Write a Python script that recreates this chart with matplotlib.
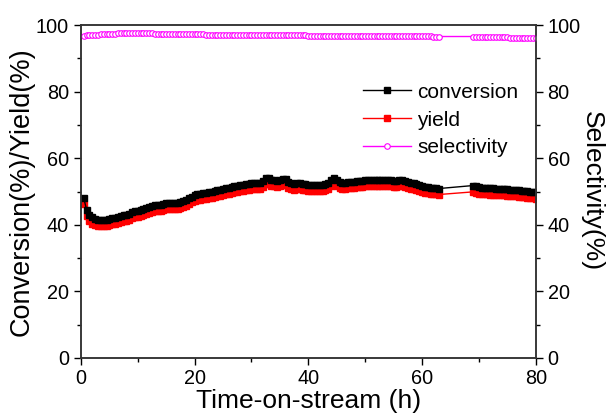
import numpy as np
import matplotlib
matplotlib.use("Agg")
import matplotlib.pyplot as plt
from matplotlib.ticker import MultipleLocator

plt.rcParams['font.family'] = ['Liberation Sans', 'DejaVu Sans']

# sampling grid: every 0.5 h, no samples between 63 h and 69 h
time_h = np.concatenate([np.arange(0.5, 63.01, 0.5), np.arange(69.0, 80.01, 0.5)])

conversion = [
    48.0, 44.5, 43.0, 42.2, 41.8, 41.5, 41.4, 41.4, 41.5, 41.7,
    41.9, 42.1, 42.3, 42.5, 42.8, 43.0, 43.3, 43.7, 44.0, 44.2,
    44.4, 44.6, 44.9, 45.3, 45.6, 45.8, 45.9, 46.0, 46.2, 46.4,
    46.5, 46.5, 46.6, 46.6, 46.8, 47.0, 47.4, 48.0, 48.5, 48.9,
    49.2, 49.4, 49.6, 49.7, 49.8, 50.0, 50.2, 50.4, 50.6, 50.8,
    51.0, 51.2, 51.4, 51.6, 51.8, 51.9, 52.1, 52.3, 52.4, 52.5,
    52.6, 52.6, 52.7, 53.3, 54.2, 54.0, 53.6, 53.4, 53.3, 53.4,
    53.8, 53.7, 53.0, 52.5, 52.4, 52.5, 52.6, 52.4, 52.2, 52.1,
    52.0, 52.0, 51.9, 51.9, 52.0, 52.2, 52.5, 53.4, 54.0, 53.5,
    52.8, 52.6, 52.7, 52.8, 52.9, 53.0, 53.1, 53.2, 53.3, 53.4,
    53.5, 53.5, 53.6, 53.6, 53.6, 53.6, 53.5, 53.5, 53.4, 53.3,
    53.2, 53.4, 53.5, 53.2, 52.9, 52.7, 52.5, 52.3, 52.1, 51.8,
    51.5, 51.3, 51.2, 51.1, 51.0, 50.9,
    51.8, 51.6, 51.3, 51.2, 51.2, 51.1, 51.0, 51.0, 50.9, 50.9,
    50.8, 50.8, 50.7, 50.6, 50.6, 50.5, 50.4, 50.3, 50.2, 50.1,
    50.0, 49.9, 49.8,
]

yield_ = [
    46.3, 42.5, 41.0, 40.3, 39.9, 39.7, 39.6, 39.6, 39.7, 39.9,
    40.1, 40.3, 40.5, 40.7, 41.0, 41.2, 41.5, 41.9, 42.2, 42.4,
    42.6, 42.8, 43.1, 43.5, 43.8, 44.0, 44.1, 44.2, 44.4, 44.6,
    44.7, 44.7, 44.8, 44.8, 45.0, 45.2, 45.6, 46.2, 46.7, 47.1,
    47.4, 47.6, 47.8, 47.9, 48.0, 48.2, 48.4, 48.6, 48.8, 49.0,
    49.2, 49.4, 49.6, 49.8, 50.0, 50.1, 50.3, 50.5, 50.6, 50.7,
    50.8, 50.8, 50.9, 51.5, 52.4, 52.2, 51.8, 51.6, 51.5, 51.6,
    52.0, 51.9, 51.2, 50.7, 50.6, 50.7, 50.8, 50.6, 50.4, 50.3,
    50.2, 50.2, 50.1, 50.1, 50.2, 50.4, 50.7, 51.6, 52.2, 51.7,
    51.0, 50.8, 50.9, 51.0, 51.1, 51.2, 51.3, 51.4, 51.5, 51.6,
    51.7, 51.7, 51.8, 51.8, 51.8, 51.8, 51.7, 51.7, 51.6, 51.5,
    51.4, 51.6, 51.7, 51.4, 51.1, 50.9, 50.7, 50.5, 50.3, 50.0,
    49.7, 49.5, 49.4, 49.3, 49.2, 49.1,
    49.9, 49.7, 49.4, 49.3, 49.3, 49.2, 49.1, 49.1, 49.0, 49.0,
    48.9, 48.9, 48.8, 48.7, 48.7, 48.6, 48.5, 48.4, 48.3, 48.2,
    48.1, 48.0, 47.9,
]

selectivity = [
    96.9, 97.0, 97.1, 97.1, 97.2, 97.2, 97.3, 97.3, 97.4, 97.4,
    97.5, 97.5, 97.6, 97.6, 97.7, 97.7, 97.8, 97.8, 97.8, 97.7,
    97.7, 97.7, 97.6, 97.6, 97.6, 97.5, 97.5, 97.5, 97.5, 97.4,
    97.4, 97.4, 97.4, 97.4, 97.4, 97.3, 97.3, 97.3, 97.3, 97.3,
    97.3, 97.3, 97.3, 97.2, 97.2, 97.2, 97.2, 97.2, 97.2, 97.2,
    97.2, 97.2, 97.2, 97.2, 97.1, 97.1, 97.1, 97.1, 97.1, 97.1,
    97.1, 97.1, 97.1, 97.1, 97.1, 97.0, 97.0, 97.0, 97.0, 97.0,
    97.0, 97.0, 97.0, 97.0, 97.0, 97.0, 97.0, 97.0, 97.0, 96.9,
    96.9, 96.9, 96.9, 96.9, 96.9, 96.9, 96.9, 96.9, 96.9, 96.9,
    96.9, 96.9, 96.9, 96.9, 96.9, 96.9, 96.9, 96.8, 96.8, 96.8,
    96.8, 96.8, 96.8, 96.8, 96.8, 96.8, 96.8, 96.8, 96.8, 96.8,
    96.8, 96.8, 96.7, 96.7, 96.7, 96.7, 96.7, 96.7, 96.7, 96.7,
    96.7, 96.7, 96.7, 96.6, 96.6, 96.6,
    96.6, 96.6, 96.6, 96.5, 96.5, 96.5, 96.5, 96.5, 96.4, 96.4,
    96.4, 96.4, 96.4, 96.3, 96.3, 96.3, 96.3, 96.3, 96.2, 96.2,
    96.2, 96.2, 96.2,
]

fig = plt.figure(figsize=(6.13, 4.20), dpi=100)
ax = fig.add_axes([0.132, 0.148, 0.742, 0.792])
ax2 = ax.twinx()

l_yield, = ax.plot(time_h, yield_, color='red', lw=1.0, marker='s', ms=4.5,
                   mec='red', mfc='red', label='yield')
l_conv, = ax.plot(time_h, conversion, color='black', lw=1.0, marker='s', ms=4.5,
                  mec='black', mfc='black', label='conversion')
l_sel, = ax2.plot(time_h, selectivity, color='magenta', lw=1.0, marker='o', ms=4.0,
                  mec='magenta', mfc='white', mew=0.8, label='selectivity')

for a in (ax, ax2):
    a.set_xlim(0, 80)
    a.set_ylim(0, 100)
    a.yaxis.set_major_locator(MultipleLocator(20))
    a.yaxis.set_minor_locator(MultipleLocator(10))
    a.tick_params(which='major', direction='out', length=5, width=1.0, labelsize=14.3, colors='black')
    a.tick_params(which='minor', direction='out', length=3, width=1.0)
    for s in a.spines.values():
        s.set_linewidth(1.1)
        s.set_color('#333333')

ax.xaxis.set_major_locator(MultipleLocator(20))
ax.xaxis.set_minor_locator(MultipleLocator(10))
ax.tick_params(axis='x', pad=3)

ax.set_xlabel('Time-on-stream (h)', fontsize=19, labelpad=1)
ax.set_ylabel('Conversion(%)/Yield(%)', fontsize=19.5, labelpad=1)
ax2.set_ylabel('Selectivity(%)', fontsize=19, rotation=270, labelpad=17)

ax2.legend([l_conv, l_yield, l_sel], ['conversion', 'yield', 'selectivity'],
           loc='center left', bbox_to_anchor=(0.602, 0.715), frameon=False,
           fontsize=15, handlelength=2.3, handletextpad=0.3, labelspacing=0.42,
           borderaxespad=0)

fig.savefig('out.png', dpi=100)
